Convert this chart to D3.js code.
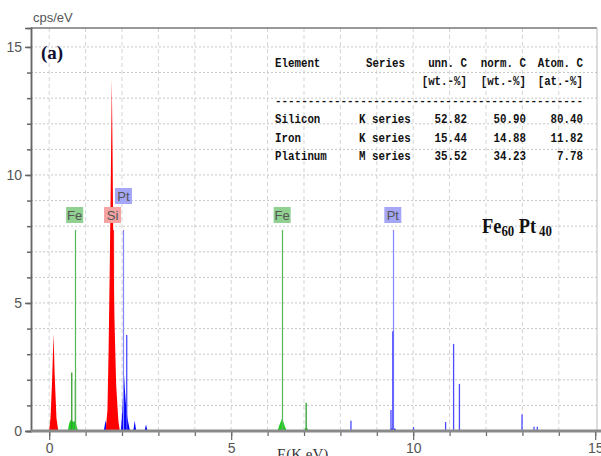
<!DOCTYPE html>
<html>
<head>
<meta charset="utf-8">
<script src="https://cdn.jsdelivr.net/npm/d3@7"></script>
<style>
  body { margin: 0; background: #fff; }
  svg { display: block; }
  .tick text { font-family: "Liberation Sans Narrow", "Liberation Sans", Arial, sans-serif; fill: #555; }
</style>
</head>
<body>
<div id="chart"></div>
<script>
// ---- data ----
// spectrum outlines, [energy keV, cps/eV]
var redArea = [[0.00,0],[0.04,0.6],[0.08,2.0],[0.12,3.8],[0.15,2.2],[0.20,0.5],[0.25,0],
  [1.55,0],[1.60,0.8],[1.63,3.0],[1.66,6.0],[1.69,9.5],[1.72,13.75],[1.74,11.0],[1.76,7.5],
  [1.79,4.5],[1.84,1.8],[1.90,0.4],[1.94,0]];
var greenArea = [[0.51,0],[0.55,0.3],[0.60,0.45],[0.66,0.35],[0.72,0.4],[0.76,0.15],[0.80,0],
  [6.27,0],[6.33,0.25],[6.40,0.5],[6.47,0.2],[6.53,0],
  [7.00,0],[7.04,0.12],[7.10,0.1],[7.13,0]];
var greenSpikes = [[0.62,2.28],[0.72,2.0],[7.06,1.1]];
var blueArea = [[1.50,0],[1.55,0.43],[1.58,0],
  [1.97,0],[2.01,0.8],[2.05,2.3],[2.08,1.6],[2.11,1.0],[2.15,0.5],[2.22,0],
  [2.31,0],[2.35,0.4],[2.39,0],[2.62,0],[2.66,0.25],[2.70,0],
  [9.35,0],[9.40,0.1],[9.50,0.1],[9.55,0]];
var blueSpikes = [[2.13,3.75],[8.29,0.4],[9.39,0.82],[9.44,3.9],[10.01,0.15],[10.89,0.35],
  [11.11,3.4],[11.27,1.84],[12.99,0.64],[13.32,0.17],[13.41,0.17]];

// element markers
var markerLabels = ['Fe', 'Si', 'Pt', 'Fe', 'Pt'];
var markerEnergies = [0.70, 1.74, 2.04, 6.40, 9.44];
var markerHeight = 7.85;

// quantification table
var tableHead1 = ['Element', 'Series', 'unn. C', 'norm. C', 'Atom. C'];
var tableHead2 = ['', '', '[wt.-%]', '[wt.-%]', '[at.-%]'];
var elements = ['Silicon', 'Iron', 'Platinum'];
var seriesNames = ['K series', 'K series', 'M series'];
var unnC = ['52.82', '15.44', '35.52'];
var normC = ['50.90', '14.88', '34.23'];
var atomC = ['80.40', '11.82', '7.78'];

var xTicks = d3.range(0, 16);
var yTicks = d3.range(0, 16);

// ---- layout ----
var svgWidth = 601;
var svgHeight = 456;
var plotLeft = 31, plotRight = 597, plotTop = 28, plotBottom = 431;

var svg = d3.select('#chart')
    .append('svg')
    .attr('width', svgWidth)
    .attr('height', svgHeight);

var x = d3.scaleLinear().domain([-0.5, 15.05]).range([plotLeft, plotRight]);
var y = d3.scaleLinear().domain([0, 15.74]).range([plotBottom, plotTop]);

// grid
svg.append('g')
    .selectAll('line')
    .data(xTicks.filter(d => d < 15))
    .enter().append('line')
    .attr('x1', d => x(d)).attr('x2', d => x(d))
    .attr('y1', plotTop).attr('y2', plotBottom)
    .attr('stroke', '#d4d4d4')
    .attr('stroke-dasharray', '4,3');

svg.append('g')
    .selectAll('line')
    .data(yTicks.filter(d => d > 0))
    .enter().append('line')
    .attr('x1', plotLeft).attr('x2', plotRight)
    .attr('y1', d => y(d)).attr('y2', d => y(d))
    .attr('stroke', '#c8c8c8')
    .attr('stroke-dasharray', '2,2');

// frame
svg.append('line').attr('x1', plotLeft).attr('x2', plotRight).attr('y1', plotTop).attr('y2', plotTop)
    .attr('stroke', '#777').attr('stroke-width', 1.5);
svg.append('line').attr('x1', plotRight).attr('x2', plotRight).attr('y1', plotTop).attr('y2', plotBottom)
    .attr('stroke', '#bbb');

// axes
var yMinor = svg.append('g')
    .attr('transform', `translate(${plotLeft},0)`)
    .call(d3.axisLeft(y).tickValues(yTicks).tickSize(4).tickFormat(''));
var yMajor = svg.append('g')
    .attr('transform', `translate(${plotLeft},0)`)
    .call(d3.axisLeft(y).tickValues([0, 5, 10, 15]).tickSize(6).tickPadding(3));
[yMinor, yMajor].forEach(function(g) {
    g.select('.domain').attr('stroke', '#666').attr('stroke-width', 1.5);
    g.selectAll('.tick line').attr('stroke', '#666').attr('stroke-width', 1.5);
});
yMajor.selectAll('.tick text').attr('font-size', 14);

var xMinor = svg.append('g')
    .attr('transform', `translate(0,${plotBottom})`)
    .call(d3.axisBottom(x).tickValues(xTicks).tickSize(5).tickFormat(''));
var xMajor = svg.append('g')
    .attr('transform', `translate(0,${plotBottom})`)
    .call(d3.axisBottom(x).tickValues([0, 5, 10, 15]).tickSize(9).tickPadding(3));
[xMinor, xMajor].forEach(function(g) {
    g.select('.domain').remove();
    g.selectAll('.tick line').attr('stroke', '#666').attr('stroke-width', 1.2);
});
xMajor.selectAll('.tick text').attr('font-size', 14);

// spectrum
var area = d3.area()
    .x(d => x(d[0]))
    .y0(y(0))
    .y1(d => y(d[1]));

svg.append('path').datum(greenArea).attr('d', area).attr('fill', '#22cc22');
svg.append('path').datum(blueArea).attr('d', area).attr('fill', '#0000ff');

svg.append('g').selectAll('line')
    .data(greenSpikes).enter().append('line')
    .attr('x1', d => x(d[0])).attr('x2', d => x(d[0]))
    .attr('y1', y(0)).attr('y2', d => y(d[1]))
    .attr('stroke', '#2f9f2f').attr('stroke-width', 1.3);

// element marker lines
var markerColors = {Fe: '#55b855', Si: '#ff3030', Pt: '#8585ff'};
var boxColors = {Fe: '#90d090', Si: '#f5a3a3', Pt: '#a6a6f7'};

svg.append('g').selectAll('line')
    .data(markerEnergies).enter().append('line')
    .attr('x1', d => Math.round(x(d)) + 0.5).attr('x2', d => Math.round(x(d)) + 0.5)
    .attr('y1', y(0)).attr('y2', y(markerHeight))
    .attr('stroke', (d, i) => markerColors[markerLabels[i]])
    .attr('stroke-width', 1.2);

svg.append('g').selectAll('line')
    .data(blueSpikes).enter().append('line')
    .attr('x1', d => x(d[0])).attr('x2', d => x(d[0]))
    .attr('y1', y(0)).attr('y2', d => y(d[1]))
    .attr('stroke', '#4a4aff').attr('stroke-width', 1.3);

svg.append('path').datum(redArea).attr('d', area).attr('fill', '#ff0000');

// thick x axis line drawn over the base of the peaks
svg.append('line').attr('x1', plotLeft).attr('x2', svgWidth).attr('y1', plotBottom).attr('y2', plotBottom)
    .attr('stroke', '#8a8a8a').attr('stroke-width', 3);

// marker label boxes
var labels = svg.append('g').selectAll('g')
    .data(markerEnergies).enter().append('g')
    .attr('transform', (d, i) => `translate(${x(d)},${i === 2 ? 188 : 207})`);
labels.append('rect')
    .attr('x', -8.5).attr('y', 0).attr('width', 17).attr('height', 16)
    .attr('fill', (d, i) => boxColors[markerLabels[i]]);
labels.append('text')
    .attr('x', 0).attr('y', 12.5)
    .attr('text-anchor', 'middle')
    .attr('font-family', 'Liberation Sans Narrow, Liberation Sans, sans-serif')
    .attr('font-size', 13)
    .attr('fill', '#555')
    .text((d, i) => markerLabels[i]);

// titles
svg.append('text')
    .attr('x', 33).attr('y', 22)
    .attr('font-family', 'Liberation Sans Narrow, Liberation Sans, sans-serif')
    .attr('font-size', 13)
    .attr('fill', '#555')
    .text('cps/eV');

svg.append('text')
    .attr('x', 277).attr('y', 459)
    .attr('font-family', 'Liberation Serif, serif')
    .attr('font-size', 15)
    .attr('fill', '#333')
    .text('E(K eV)');

svg.append('text')
    .attr('x', 41).attr('y', 59)
    .attr('font-family', 'Liberation Serif, serif')
    .attr('font-weight', 'bold')
    .attr('font-size', 19)
    .attr('fill', '#111133')
    .text('(a)');

var formula = svg.append('text')
    .attr('transform', 'translate(482,233) scale(0.92,1.1)')
    .attr('font-family', 'Liberation Serif, serif')
    .attr('font-weight', 'bold')
    .attr('font-size', 20)
    .attr('fill', '#111');
formula.append('tspan').text('Fe');
formula.append('tspan').attr('font-size', 14).attr('dy', 3).text('60');
formula.append('tspan').attr('dx', 5).attr('dy', -3).text('Pt');
formula.append('tspan').attr('dx', 3).attr('font-size', 14).attr('dy', 3).text('40');

// table
var table = svg.append('g')
    .attr('font-family', 'Liberation Mono, DejaVu Sans Mono, monospace')
    .attr('font-weight', 'bold')
    .attr('font-size', 12)
    .attr('fill', '#111');
var colX = [275, 366, 467, 526, 583];
var colAnchor = ['start', 'start', 'end', 'end', 'end'];

function cell(t, px, py, anchor) {
    table.append('text')
        .attr('transform', `translate(${px},${py}) scale(0.9,1)`)
        .attr('text-anchor', anchor)
        .text(t);
}

tableHead1.forEach(function(t, i) { cell(t, colX[i], 67, colAnchor[i]); });
tableHead2.forEach(function(t, i) { if (t) cell(t, colX[i], 85, colAnchor[i]); });
table.append('text').attr('x', 275).attr('y', 104)
    .attr('font-size', 11)
    .attr('textLength', 308).attr('lengthAdjust', 'spacing')
    .text('-'.repeat(47));

var rowY = [123, 142, 160];
elements.forEach(function(el, r) {
    var cells = [el, seriesNames[r], unnC[r], normC[r], atomC[r]];
    cells.forEach(function(t, i) {
        cell(t, i === 1 ? 359 : colX[i], rowY[r], colAnchor[i]);
    });
});
</script>
</body>
</html>
